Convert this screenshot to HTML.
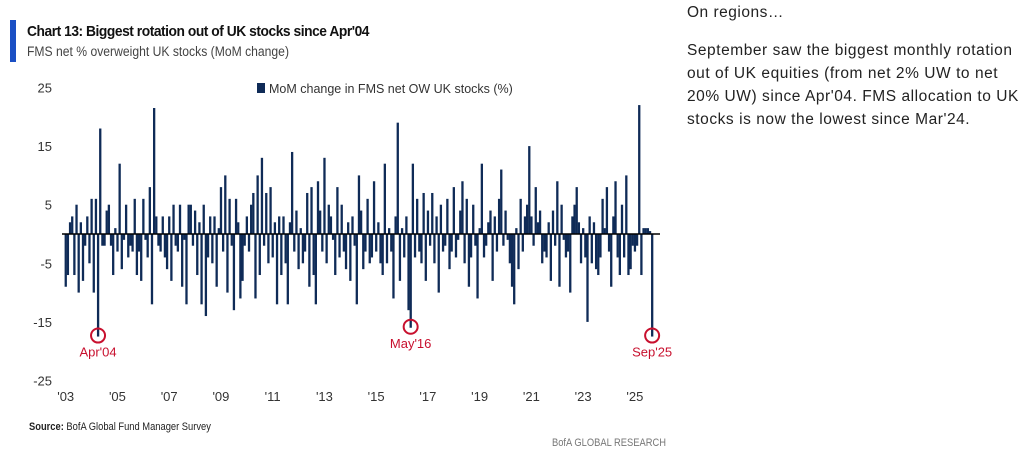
<!DOCTYPE html>
<html><head><meta charset="utf-8">
<style>
body{margin:0;background:#fff;width:1024px;height:460px;overflow:hidden;font-family:"Liberation Sans",sans-serif;position:relative}
.t{position:absolute;white-space:nowrap}
</style></head><body>
<div class="t" style="left:10px;top:20px;width:6px;height:42px;background:#1a4fc4"></div>
<div class="t" style="left:27px;top:23px;font-size:15px;font-weight:bold;color:#111;letter-spacing:-0.5px;transform:scaleX(0.92);transform-origin:left">Chart 13: Biggest rotation out of UK stocks since Apr'04</div>
<div class="t" style="left:27px;top:44px;font-size:13.5px;color:#444;transform:scaleX(0.9);transform-origin:left">FMS net % overweight UK stocks (MoM change)</div>
<div class="t" style="left:687px;top:4px;font-size:15.5px;color:#222;letter-spacing:0.5px">On regions…</div>
<div class="t" style="left:687px;top:39px;font-size:15.5px;line-height:23px;color:#222;letter-spacing:0.55px">September saw the biggest monthly rotation<br>out of UK equities (from net 2% UW to net<br>20% UW) since Apr'04. FMS allocation to UK<br>stocks is now the lowest since Mar'24.</div>
<div class="t" style="left:29px;top:421px;font-size:11px;color:#222;transform:scaleX(0.85);transform-origin:left"><b>Source:</b> BofA Global Fund Manager Survey</div>
<div class="t" style="left:552px;top:437px;font-size:11px;color:#777;transform:scaleX(0.85);transform-origin:left">BofA GLOBAL RESEARCH</div>
<svg id="chart" width="1024" height="460" style="position:absolute;left:0;top:0"></svg>
<script>
const startYear=2003;
const values=[
-9,-7,2,3,-7,5,-10,2,-8,-2,3,-5,
6,-10,6,-17.5,18,-2,-2,4,5,-2,-7,1,
-3,12,-6,-1,5,-4,-2,-3,6,-7,-3,-8,
6,-1,-4,8,-12,21.5,3,-2,-3,3,-4,-6,
3,-8,5,-2,-3,5,-9,-1,-12,5,5,-2,
4,-7,2,-12,5,-14,-4,3,-5,3,-9,1,
8,-3,10,-10,6,-2,-13,6,2,-11,-8,-2,
3,-3,5,7,-11,10,-7,13,-2,7,-5,8,
-4,2,-12,3,-7,3,-5,-12,2,14,-3,4,
-6,1,-5,-3,7,-9,8,-7,-12,9,4,-3,
13,-5,5,3,-1,-7,8,-4,5,-3,-6,2,
-8,3,-2,-12,10,4,-6,-3,6,-5,-4,9,
-3,2,-5,-7,12,-5,1,-3,-11,3,19,-8,
1,-4,3,-13,-16,12,-4,6,-3,-5,7,-8,
4,-2,7,-5,3,-10,5,-3,-2,6,-6,-3,
8,-4,-1,4,9,-5,6,-9,-4,5,-2,-11,
1,12,-4,-2,2,4,-8,3,-3,6,11,-2,
4,-1,-5,-9,-12,1,-6,6,-3,3,5,15,
3,-2,8,2,4,-5,-3,-4,2,-8,4,-2,
9,-9,5,-1,-4,-3,-10,3,5,8,2,-5,
1,-4,-15,3,-5,2,-6,-7,-4,6,1,8,
-3,-9,3,9,-4,-7,5,-4,10,-7,-6,-2,
-3,-2,22,-7,1,1,1,0.5,-17.5];
const yTicks=[25,15,5,-5,-15,-25];
const xTickLabels=["'03","'05","'07","'09","'11","'13","'15","'17","'19","'21","'23","'25"];
const xTickYears=[2003,2005,2007,2009,2011,2013,2015,2017,2019,2021,2023,2025];
const annotations=[{idx:15,label:"Apr'04"},{idx:160,label:"May'16"},{idx:272,label:"Sep'25"}];
const legendLabel="MoM change in FMS net OW UK stocks (%)";

const svg=document.getElementById('chart');const NS='http://www.w3.org/2000/svg';
const x0=65.7,dx=2.156,yZero=234,py=5.86;
const xs=i=>x0+i*dx; const ys=v=>yZero-v*py;
function mk(t,a){const e=document.createElementNS(NS,t);for(const k in a)e.setAttribute(k,a[k]);svg.appendChild(e);return e;}
values.forEach((v,i)=>{
 const r=mk('rect',{x:xs(i)-1.1,y:Math.min(ys(v),yZero),width:2.3,height:Math.abs(ys(v)-yZero),fill:'#0f2b57'});
 
 
});
const ax=mk('line',{x1:62,x2:660,y1:yZero,y2:yZero,stroke:'#000','stroke-width':1.5});


yTicks.forEach(v=>{
 const t=mk('text',{x:52,y:ys(v)+5,'text-anchor':'end','font-size':13,fill:'#333','font-family':'Liberation Sans'});t.textContent=v;
 
 
});
xTickYears.forEach((yr,k)=>{
 const t=mk('text',{x:xs((yr-startYear)*12),y:401,'text-anchor':'middle','font-size':13,fill:'#333','font-family':'Liberation Sans'});t.textContent=xTickLabels[k];
 
 
});
annotations.forEach(a=>{
 const cx=xs(a.idx),cy=ys(values[a.idx])-1;
 const c=mk('circle',{cx:cx,cy:cy,r:7,fill:'none',stroke:'#c8102e','stroke-width':2});
 
 
 const t=mk('text',{x:cx,y:cy+21,'text-anchor':'middle','font-size':13,fill:'#c8102e','font-family':'Liberation Sans'});t.textContent=a.label;
 
 
});
const lg=mk('rect',{x:257,y:83,width:8,height:10,fill:'#0f2b57'});


const lt=mk('text',{x:269,y:93,'font-size':12.5,fill:'#333','font-family':'Liberation Sans'});lt.textContent=legendLabel;


</script>
</body></html>
